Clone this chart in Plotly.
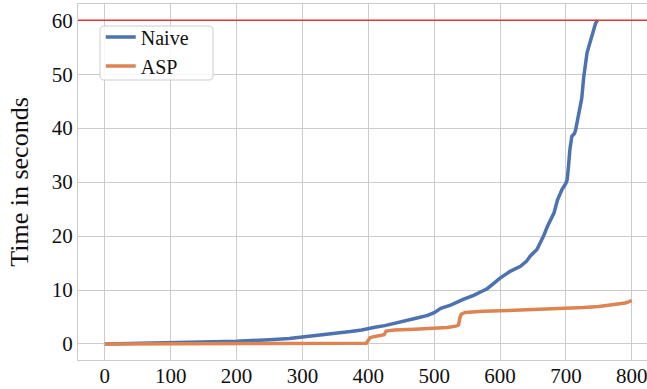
import plotly.graph_objects as go

# Naive: sorted runtimes (instance index, seconds)
naive_idx = [0, 50, 100, 150, 200, 250, 280, 300, 325, 350, 373, 390, 400, 410,
             425, 440, 449, 460, 474, 490, 500, 510, 525, 545, 560, 575, 580, 590,
             600, 616, 631, 640, 646, 656, 661, 666, 672, 677, 682, 687, 690, 694,
             700, 702, 704, 706, 709, 713, 715, 720, 724, 727, 732, 735, 740, 742,
             745, 748]
naive_sec = [0.0, 0.1, 0.3, 0.4, 0.5, 0.8, 1.0, 1.3, 1.6, 1.9, 2.3, 2.6, 2.9, 3.1,
             3.4, 3.8, 4.0, 4.4, 4.8, 5.3, 5.8, 6.6, 7.2, 8.3, 9.0, 9.9, 10.2, 11.2,
             12.2, 13.5, 14.4, 15.3, 16.3, 17.5, 18.7, 20.0, 21.8, 23.0, 24.3, 26.6,
             27.6, 28.6, 29.8, 30.5, 33.0, 36.0, 38.5, 39.0, 39.8, 42.8, 45.5, 49.4,
             53.9, 55.2, 57.4, 58.2, 59.4, 60.0]

# ASP: sorted runtimes (instance index, seconds)
asp_idx = [0, 100, 200, 300, 397, 400, 403, 410, 420, 424, 427, 440, 470, 500,
           520, 533, 537, 539, 541, 547, 560, 575, 600, 626, 650, 677, 700, 727,
           750, 768, 780, 790, 795, 800]
asp_sec = [0.0, 0.03, 0.06, 0.1, 0.15, 0.7, 1.2, 1.4, 1.5, 1.7, 2.4, 2.6, 2.75,
           2.9, 3.05, 3.3, 3.5, 4.8, 5.5, 5.85, 6.0, 6.05, 6.15, 6.27, 6.35, 6.45,
           6.55, 6.75, 6.95, 7.2, 7.4, 7.6, 7.8, 8.05]

timeout = 60
x_ticks = [0, 100, 200, 300, 400, 500, 600, 700, 800]
y_ticks = [0, 10, 20, 30, 40, 50, 60]

FONT = "Liberation Serif"
GRID = "#cccccc"
TXT = "#111111"

fig = go.Figure()
fig.add_trace(go.Scatter(x=naive_idx, y=naive_sec, mode="lines", name="Naive",
                         line=dict(color="#4c72b0", width=3.5)))
fig.add_trace(go.Scatter(x=asp_idx, y=asp_sec, mode="lines", name="ASP",
                         line=dict(color="#dd8452", width=3.5)))
fig.add_hline(y=timeout, line=dict(color="rgb(222,55,55)", width=1.5))

# legend frame (rounded, semi-opaque, like matplotlib's)
x0, x1, y0, y1 = 0.0387, 0.2373, 0.7865, 0.9382
rx, ry = 0.0075, 0.012
frame = (f"M{x0+rx},{y1} L{x1-rx},{y1} Q{x1},{y1} {x1},{y1-ry} "
         f"L{x1},{y0+ry} Q{x1},{y0} {x1-rx},{y0} L{x0+rx},{y0} "
         f"Q{x0},{y0} {x0},{y0+ry} L{x0},{y1-ry} Q{x0},{y1} {x0+rx},{y1} Z")
fig.add_shape(type="path", path=frame, xref="paper", yref="paper",
              fillcolor="rgba(255,255,255,0.85)", line=dict(color=GRID, width=1),
              layer="above")

fig.update_layout(
    width=647, height=389,
    margin=dict(l=78, r=0, t=4, b=29, autoexpand=False),
    paper_bgcolor="white", plot_bgcolor="white",
    font=dict(family=FONT, color=TXT, size=21),
    showlegend=True,
    legend=dict(x=0.040, y=0.962, xanchor="left", yanchor="top",
                bgcolor="rgba(0,0,0,0)", borderwidth=0,
                font=dict(family=FONT, size=20, color=TXT),
                tracegroupgap=0, itemwidth=30),
    xaxis=dict(range=[-40.7, 823.1], tickvals=x_ticks, showgrid=True,
               gridcolor=GRID, gridwidth=1.3, zeroline=False, showline=True,
               linecolor=GRID, linewidth=1.3, mirror=True, ticks="",
               ticklabelstandoff=-3, ticklabeloverflow="allow",
               tickfont=dict(family=FONT, size=21, color=TXT)),
    yaxis=dict(range=[-2.97, 63.0], tickvals=y_ticks, showgrid=True,
               gridcolor=GRID, gridwidth=1.3, zeroline=False, showline=True,
               linecolor=GRID, linewidth=1.3, mirror=True, ticks="",
               ticklabeloverflow="allow",
               tickfont=dict(family=FONT, size=21, color=TXT),
               title=dict(text="Time in seconds", standoff=15,
                          font=dict(family=FONT, size=26, color=TXT))),
)

fig.write_html("out.html", config={"displayModeBar": False},
               post_script="document.body.style.margin='0';document.body.style.overflow='hidden';")
